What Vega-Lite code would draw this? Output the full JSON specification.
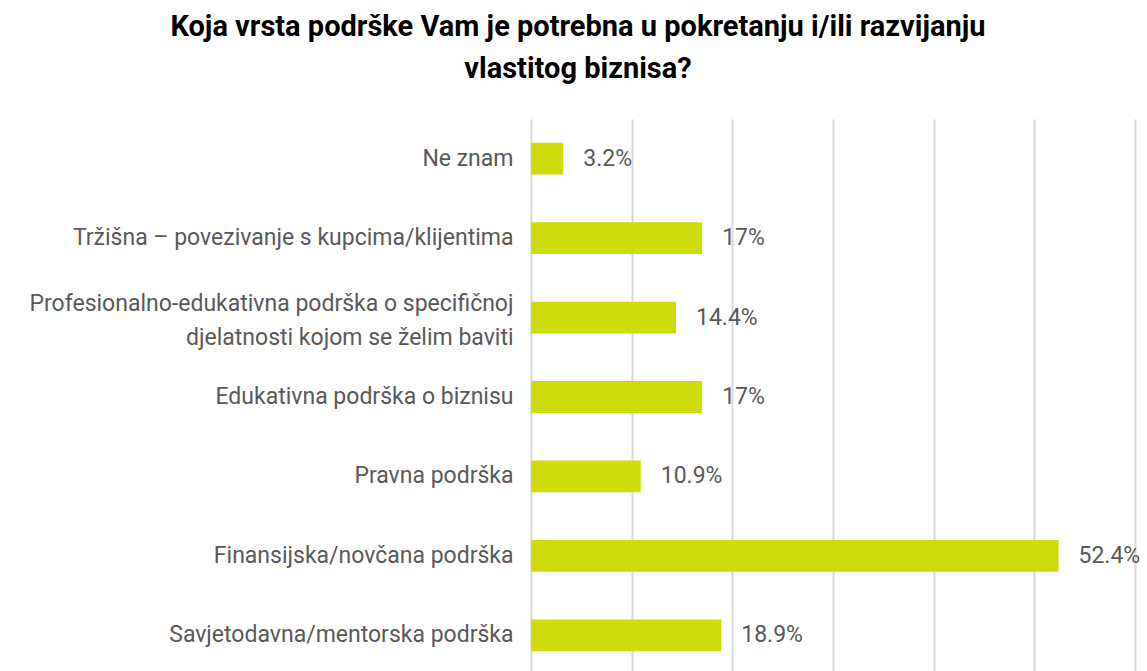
{
  "$schema": "https://vega.github.io/schema/vega-lite/v6.json",
  "autosize": {"type": "none"},
  "width": 604,
  "height": 556,
  "padding": {"left": 531, "top": 119, "right": 12, "bottom": 0},
  "background": "white",
  "title": {
    "text": ["Koja vrsta podrške Vam je potrebna u pokretanju i/ili razvijanju", "vlastitog biznisa?"],
    "anchor": "middle",
    "frame": "group",
    "dx": -255,
    "offset": 35,
    "font": "Roboto",
    "fontSize": 29,
    "fontWeight": "bold",
    "color": "#000000",
    "lineHeight": 42
  },
  "data": {
    "values": [
      {"kategorija": "Ne znam", "vrijednost": 3.2, "oznaka": "3.2%"},
      {"kategorija": "Tržišna – povezivanje s kupcima/klijentima", "vrijednost": 17, "oznaka": "17%"},
      {"kategorija": "Profesionalno-edukativna podrška o specifičnoj|djelatnosti kojom se želim baviti", "vrijednost": 14.4, "oznaka": "14.4%"},
      {"kategorija": "Edukativna podrška o biznisu", "vrijednost": 17, "oznaka": "17%"},
      {"kategorija": "Pravna podrška", "vrijednost": 10.9, "oznaka": "10.9%"},
      {"kategorija": "Finansijska/novčana podrška", "vrijednost": 52.4, "oznaka": "52.4%"},
      {"kategorija": "Savjetodavna/mentorska podrška", "vrijednost": 18.9, "oznaka": "18.9%"}
    ]
  },
  "encoding": {
    "y": {
      "field": "kategorija",
      "type": "nominal",
      "sort": null,
      "scale": {"paddingInner": 0.6, "paddingOuter": 0.3},
      "axis": {
        "title": null,
        "domain": false,
        "ticks": false,
        "grid": false,
        "labelPadding": 18,
        "labelFont": "Roboto",
        "labelFontSize": 23,
        "labelColor": "#595959",
        "labelLimit": 600,
        "labelLineHeight": 34,
        "labelOffset": {"condition": {"test": "indexof(datum.value, '|') >= 0", "value": -14}, "value": 0},
        "labelExpr": "split(datum.label, '|')"
      }
    },
    "x": {
      "field": "vrijednost",
      "type": "quantitative",
      "scale": {"domain": [0, 60], "nice": false},
      "axis": {
        "title": null,
        "domain": false,
        "ticks": false,
        "labels": false,
        "grid": true,
        "gridColor": "#d9d9d9",
        "gridWidth": 2,
        "values": [0, 10, 20, 30, 40, 50, 60]
      }
    }
  },
  "layer": [
    {"mark": {"type": "bar", "color": "#cddc0a"}},
    {
      "mark": {"type": "text", "align": "left", "baseline": "middle", "dx": 20, "font": "Roboto", "fontSize": 23, "color": "#595959"},
      "encoding": {"text": {"field": "oznaka"}}
    }
  ],
  "config": {"view": {"stroke": null}}
}
